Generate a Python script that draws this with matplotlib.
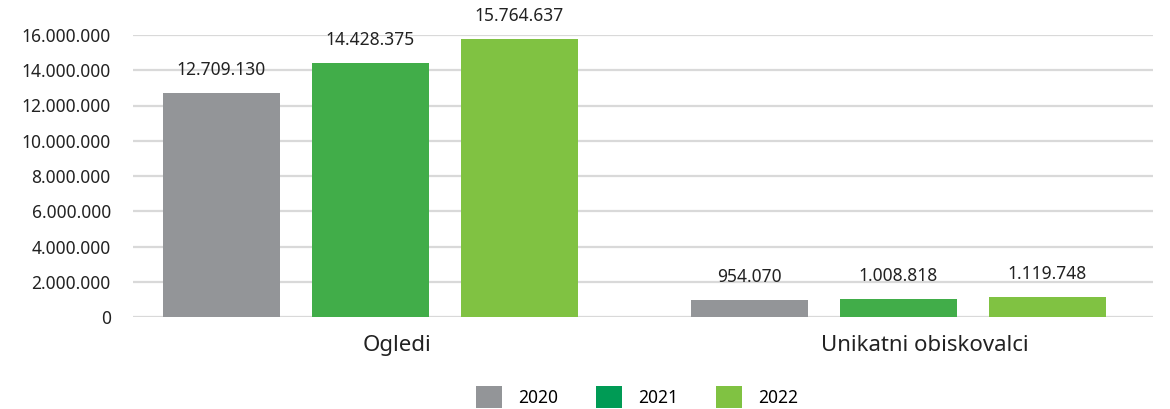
import matplotlib.pyplot as plt
import numpy as np
from matplotlib.patches import Patch
from matplotlib.ticker import FuncFormatter

plt.rcParams['font.family'] = ['Noto Sans', 'DejaVu Sans']

categories = ['Ogledi', 'Unikatni obiskovalci']
years = ['2020', '2021', '2022']
values_2020 = [12709130, 954070]
values_2021 = [14428375, 1008818]
values_2022 = [15764637, 1119748]

bar_colors = ['#939598', '#41ad49', '#80c242']
legend_colors = ['#939598', '#009b55', '#80c242']


def dotted(v, pos=None):
    return f'{int(v):,}'.replace(',', '.')


fig = plt.figure(figsize=(11.7, 4.09), dpi=100)
ax = fig.add_axes([133 / 1170, 1 - 317 / 409, 1020 / 1170, 282 / 409])

unit = 528.0
x = np.arange(len(categories))
width = 117 / unit
step = 149 / unit
series = [values_2020, values_2021, values_2022]
for i, vals in enumerate(series):
    xs = x + (i - 1) * step
    ax.bar(xs, vals, width=width, color=bar_colors[i], zorder=3)
    for xv, v in zip(xs, vals):
        ax.annotate(dotted(v), (xv, v), xytext=(0, 14), textcoords='offset pixels',
                    ha='center', va='bottom', fontsize=12.5, color='#222222')

ax.set_ylim(0, 16000000)
ax.set_yticks(np.arange(0, 16000001, 2000000))
ax.yaxis.set_major_formatter(FuncFormatter(dotted))
ax.set_xlim((133 - 370.5) / unit, (1153 - 370.5) / unit)
# category labels sit a little right of the bar groups
ax.set_xticks(x + 26 / unit)
ax.set_xticklabels(categories, fontsize=16, color='#222222')
ax.tick_params(axis='both', length=0)
ax.tick_params(axis='y', labelsize=12.5, labelcolor='#222222', pad=16)
ax.tick_params(axis='x', pad=13)
ax.grid(axis='y', color='#d9d9d9', linewidth=1.6, zorder=0)
for s in ax.spines.values():
    s.set_visible(False)

handles = [Patch(facecolor=c, label=y) for c, y in zip(legend_colors, years)]
fig.legend(handles=handles, loc='center', bbox_to_anchor=(637 / 1170, 1 - 397 / 409), ncol=3,
           frameon=False, fontsize=12.5, handlelength=1.5, handleheight=1.5,
           columnspacing=2.2, handletextpad=0.9)

fig.savefig('out.png', dpi=100)
